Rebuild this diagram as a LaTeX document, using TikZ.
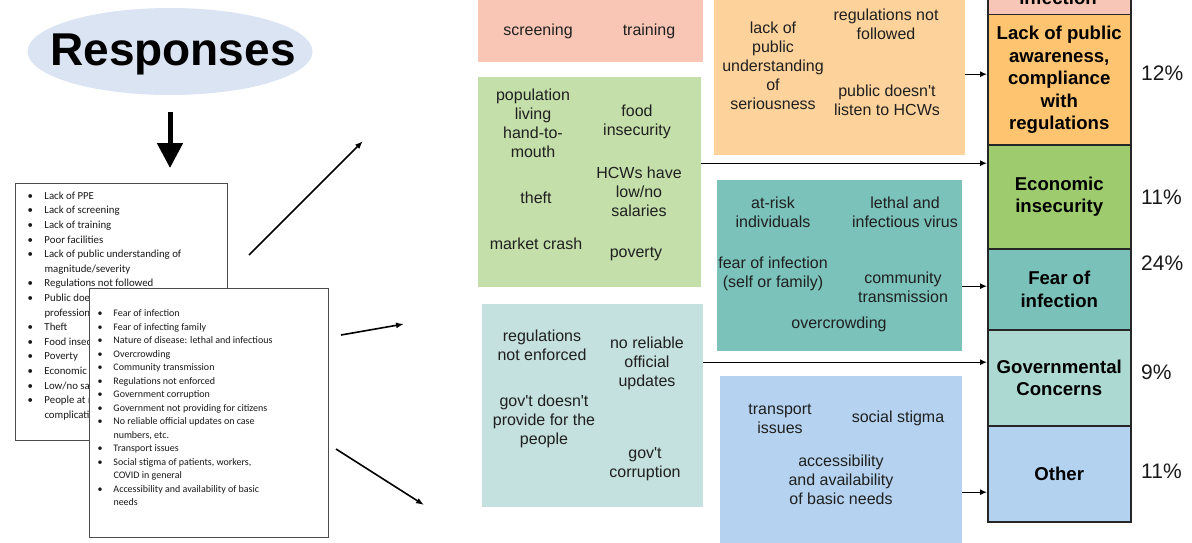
\documentclass[tikz,border=0pt]{standalone}
\usepackage{fontspec}
\usepackage{tikz}
\usetikzlibrary{calc, positioning, arrows.meta, shapes.geometric}
\newfontfamily\arialfont{Liberation Sans}
\newfontfamily\calfont{Carlito}
\definecolor{ellBlue}{HTML}{DAE4F3}
\definecolor{boxPink}{HTML}{F9C6B5}
\definecolor{boxGreen}{HTML}{C4DFAA}
\definecolor{boxGov}{HTML}{C4E0DF}
\definecolor{boxOrange}{HTML}{FED39B}
\definecolor{boxTeal}{HTML}{7BC2BA}
\definecolor{boxBlue}{HTML}{B5D3F0}
\definecolor{cellPink}{HTML}{F8C6B6}
\definecolor{cellOrange}{HTML}{FFC46F}
\definecolor{cellGreen}{HTML}{9DCB6E}
\definecolor{cellTeal}{HTML}{7AC2B9}
\definecolor{cellGov}{HTML}{ADD9D3}
\definecolor{cellBlue}{HTML}{B2D2EF}
\newlength\bulw
\newcommand{\bul}{\makebox[\bulw][l]{\textbullet}}
\newcommand{\cont}{\hspace*{\bulw}}
\tikzset{
    listbox/.style={rectangle, draw=black!70, line width=1pt, fill=white, anchor=north west, inner sep=0pt},
    listtxt/.style={anchor=north west, align=left, inner sep=0pt, text=black!90},
    cluster/.style={rectangle, anchor=north west, inner sep=0pt},
    note/.style={align=center, inner sep=0pt, text=black!88, font=\arialfont\fontsize{16}{19}\selectfont},
    cell/.style={rectangle, draw=black!85, line width=1.5pt, anchor=north west, minimum width=143pt, align=center, inner sep=0pt, font=\arialfont\bfseries\fontsize{18.6}{22.5}\selectfont},
    pct/.style={anchor=west, inner sep=0pt, text=black!90, font=\arialfont\fontsize{21}{25}\selectfont},
    link/.style={-{Latex[length=7pt,width=6pt]}, line width=1.3pt},
    fan/.style={-{Latex[length=8pt,width=6pt]}, line width=1.6pt},
    bigarrow/.style={-{Triangle[length=25pt,width=25pt]}, line width=5pt}
}

\begin{document}
\begin{tikzpicture}[x=1pt, y=-1pt]
    \useasboundingbox (0,0) rectangle (1192,543);

    % Title
    \node[ellipse, fill=ellBlue, minimum width=285pt, minimum height=87pt, inner sep=0pt] (resp) at (170,51.5) {};
    \node[font=\arialfont\bfseries\fontsize{46}{50}\selectfont, inner sep=0pt] (respText) at (173,54) {Responses};

    % Back list of responses
    \node[listbox, minimum width=212pt, minimum height=257pt] (listA) at (15,183) {};
    \node[listtxt, font=\calfont\fontsize{10.8}{14.6}\selectfont,
          execute at begin node={\setlength\bulw{17pt}}] (itemsA) at (27.3,191.5) {%
        \bul Lack of PPE\\
        \bul Lack of screening\\
        \bul Lack of training\\
        \bul Poor facilities\\
        \bul Lack of public understanding of\\
        \cont magnitude/severity\\
        \bul Regulations not followed\\
        \bul Public doesn't listen to health\\
        \cont professionals\\
        \bul Theft\\
        \bul Food insecurity\\
        \bul Poverty\\
        \bul Economic crash\\
        \bul Low/no salaries\\
        \bul People at risk of\\
        \cont complications};

    % Front list of responses
    \node[listbox, minimum width=239pt, minimum height=249pt] (listB) at (89,288) {};
    \node[listtxt, font=\calfont\fontsize{10}{13.5}\selectfont,
          execute at begin node={\setlength\bulw{15.8pt}}] (itemsB) at (97.5,309.5) {%
        \bul Fear of infection\\
        \bul Fear of infecting family\\
        \bul Nature of disease: lethal and infectious\\
        \bul Overcrowding\\
        \bul Community transmission\\
        \bul Regulations not enforced\\
        \bul Government corruption\\
        \bul Government not providing for citizens\\
        \bul No reliable official updates on case\\
        \cont numbers, etc.\\
        \bul Transport issues\\
        \bul Social stigma of patients, workers,\\
        \cont COVID in general\\
        \bul Accessibility and availability of basic\\
        \cont needs};

    \draw[bigarrow] ([yshift=-17pt]resp.south) -- ([yshift=15pt]resp.south |- listA.north);

    % Fan out to the clusters
    \coordinate (fanA) at (249,255);
    \coordinate (fanAend) at (363,141);
    \coordinate (fanB) at (341,335);
    \coordinate (fanBend) at (404,324);
    \coordinate (fanC) at (336,449);
    \coordinate (fanCend) at (424,505);
    \draw[fan] (fanA) -- (fanAend);
    \draw[fan] (fanB) -- (fanBend);
    \draw[fan] (fanC) -- (fanCend);

    % Clusters of codes
    \node[cluster, fill=boxPink,   minimum width=225pt, minimum height=102pt] (boxTrain) at (478,-40) {};
    \node[cluster, fill=boxGreen,  minimum width=223pt, minimum height=210pt] (boxEcon)  at (478,77) {};
    \node[cluster, fill=boxGov,    minimum width=221pt, minimum height=203pt] (boxGov)   at (482,304) {};
    \node[cluster, fill=boxOrange, minimum width=251pt, minimum height=162pt] (boxAware) at (714,-7) {};
    \node[cluster, fill=boxTeal,   minimum width=245pt, minimum height=171pt] (boxFear)  at (717,180) {};
    \node[cluster, fill=boxBlue,   minimum width=242pt, minimum height=232pt] (boxOther) at (720,376) {};

    \foreach \nm/\cx/\cy/\txt in {
        tScreen/538/31/screening, tTrain/649/31/training,
        tPop/533/123.5/{population\\living\\hand-to-\\mouth}, tFood/637/121.5/{food\\insecurity},
        tTheft/536/198/theft, tSal/639/192/{HCWs have\\low/no\\salaries},
        tCrash/536/244/{market crash}, tPov/636/254/poverty,
        tRegs/542/345/{regulations\\not enforced}, tUpd/647/363.5/{no reliable\\official\\updates},
        tProv/544/421/{gov't doesn't\\provide for the\\people}, tCorr/645/464/{gov't\\corruption},
        tLack/773/65.5/{lack of\\public\\understanding\\of\\seriousness},
        tFollow/886/24/{regulations not\\followed}, tListen/887/100/{public doesn't\\listen to HCWs},
        tRisk/773/212.5/{at-risk\\individuals}, tVirus/905/212.5/{lethal and\\infectious virus},
        tSelf/773/273.5/{fear of infection\\(self or family)}, tComm/903/287/{community\\transmission},
        tCrowd/839/324/overcrowding,
        tTrans/780/418.5/{transport\\issues}, tStigma/898/418/{social stigma},
        tAccess/841/480/{accessibility\\and availability\\of basic needs}}
        \node[note] (\nm) at (\cx,\cy) {\txt};

    % Themes column
    \foreach \nm/\ytop/\h/\col/\txt in {
        cTop/-18/32/cellPink/{},
        cAware/14/130/cellOrange/{Lack of public\\awareness,\\compliance\\with\\regulations},
        cEcon/144/104/cellGreen/{Economic\\insecurity},
        cFear/248/81/cellTeal/{Fear of\\infection},
        cGov/329/96/cellGov/{Governmental\\Concerns},
        cOther/425/96/cellBlue/{Other}}
        \node[cell, fill=\col, minimum height=\h pt] (\nm) at (987,\ytop) {\txt};
    \node[font=\arialfont\bfseries\fontsize{18.6}{22.5}\selectfont, anchor=base, inner sep=0pt] (tInf) at (1058,5) {infection};

    \node[pct] (pAware) at (1141,73) {12\%};
    \node[pct] (pEcon)  at (1141,197) {11\%};
    \node[pct] (pFear)  at (1141,263) {24\%};
    \node[pct] (pGov)   at (1141,372) {9\%};
    \node[pct] (pOther) at (1141,471) {11\%};

    % Links into the themes
    \coordinate (econOut) at ($(boxEcon.east)+(0,-19)$);
    \coordinate (fearOut) at ($(boxFear.east)+(0,20.5)$);
    \coordinate (govOut) at ($(boxGov.east)+(0,-43.5)$);
    \draw[link] (boxAware.east) -- (boxAware.east -| cAware.west);
    \draw[link] (econOut) -- (econOut -| cEcon.west);
    \draw[link] (fearOut) -- (fearOut -| cFear.west);
    \draw[link] (govOut) -- (govOut -| cGov.west);
    \draw[link] (boxOther.east) -- (boxOther.east -| cOther.west);
\end{tikzpicture}
\end{document}
